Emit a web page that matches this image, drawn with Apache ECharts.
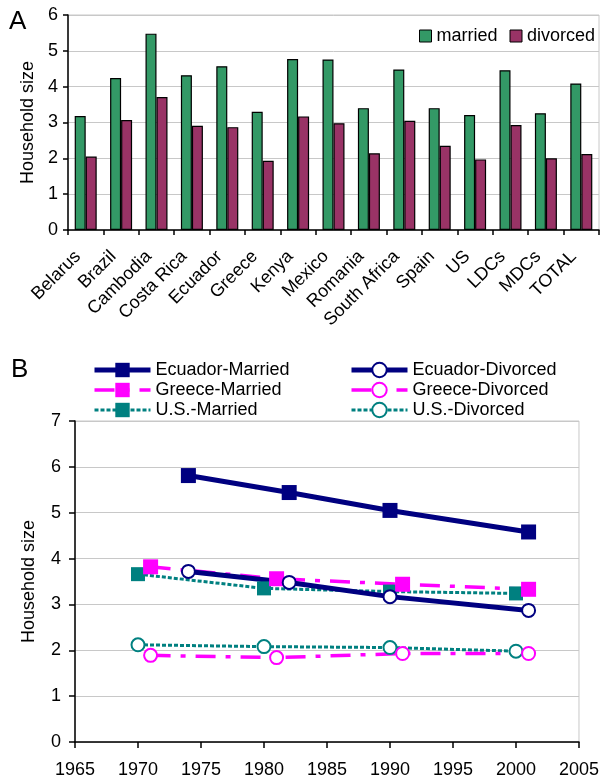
<!DOCTYPE html>
<html>
<head>
<meta charset="utf-8">
<script src="https://cdn.jsdelivr.net/npm/echarts@6/dist/echarts.min.js"></script>
<style>
  html, body { margin: 0; padding: 0; background: #fff; }
  #chart { width: 602px; height: 779px; }
</style>
</head>
<body>
<div id="chart"></div>
<script>
// panel A: household size by country
const countries = ['Belarus', 'Brazil', 'Cambodia', 'Costa Rica', 'Ecuador', 'Greece', 'Kenya',
  'Mexico', 'Romania', 'South Africa', 'Spain', 'US', 'LDCs', 'MDCs', 'TOTAL']
const married = [3.18, 4.24, 5.48, 4.32, 4.57, 3.30, 4.77, 4.76, 3.40, 4.48, 3.40, 3.21, 4.46, 3.26, 4.09]
const divorced = [2.05, 3.07, 3.71, 2.91, 2.87, 1.93, 3.17, 2.98, 2.14, 3.05, 2.35, 1.97, 2.93, 2.00, 2.12]

// panel B: trends over time
const ecuadorYears = [1974, 1982, 1990, 2001]
const ecuadorMarried = [5.81, 5.44, 5.05, 4.58]
const ecuadorDivorced = [3.72, 3.48, 3.17, 2.87]
const greeceYears = [1971, 1981, 1991, 2001]
const greeceMarried = [3.82, 3.56, 3.44, 3.33]
const greeceDivorced = [1.89, 1.84, 1.93, 1.93]
const usYears = [1970, 1980, 1990, 2000]
const usMarried = [3.66, 3.35, 3.28, 3.24]
const usDivorced = [2.12, 2.08, 2.06, 1.98]

const zip = (xs, ys) => xs.map((x, i) => [x, ys[i]])

const FONT = '"Liberation Sans", Arial, sans-serif'
const txt = { color: '#000', fontSize: 18, fontFamily: FONT }
const axisLine = { show: true, lineStyle: { color: '#000', width: 1.5 } }
const gridLine = { show: true, lineStyle: { color: '#c8c8c8', width: 1 } }

const NAVY = '#000080'
const MAGENTA = '#ff00ff'
const TEAL = '#008080'

// line styles per country
const ecuadorLine = { width: 5 }
const greeceLine = { width: 3.5, type: [20, 10, 5, 10] }
const usLine = { width: 3, type: [4, 2] }

const lineSeries = (name, years, vals, color, symbol, size, lineStyle) => ({
  name,
  type: 'line',
  xAxisIndex: 1,
  yAxisIndex: 1,
  data: zip(years, vals),
  symbol,
  symbolSize: size,
  showSymbol: true,
  color,
  itemStyle: symbol === 'emptyCircle'
    ? { color, borderColor: color, borderWidth: 2 }
    : { color },
  lineStyle: Object.assign({ color }, lineStyle)
})

const legendItem = (name, color, style) => ({
  name,
  lineStyle: Object.assign({ color }, style)
})

const chart = echarts.init(document.getElementById('chart'))
chart.setOption({
  animation: false,
  title: [
    { text: 'A', left: 9, top: 9, padding: 0, textStyle: { fontSize: 26, fontWeight: 'normal', color: '#000', fontFamily: FONT } },
    { text: 'B', left: 11, top: 357, padding: 0, textStyle: { fontSize: 26, fontWeight: 'normal', color: '#000', fontFamily: FONT } }
  ],
  legend: [
    {
      data: ['married', 'divorced'],
      left: 419, top: 27, width: 183, padding: 0,
      icon: 'rect',
      itemWidth: 12, itemHeight: 12, itemGap: 12,
      itemStyle: { borderColor: '#000', borderWidth: 1 },
      textStyle: Object.assign({}, txt, { lineHeight: 18 })
    },
    {
      data: [
        legendItem('Ecuador-Married', NAVY, ecuadorLine),
        legendItem('Greece-Married', MAGENTA, greeceLine),
        legendItem('U.S.-Married', TEAL, usLine)
      ],
      orient: 'vertical',
      left: 92, top: 361, padding: 0,
      itemWidth: 56, itemHeight: 18, itemGap: 2,
      textStyle: Object.assign({}, txt, { lineHeight: 18 })
    },
    {
      data: [
        legendItem('Ecuador-Divorced', NAVY, ecuadorLine),
        legendItem('Greece-Divorced', MAGENTA, greeceLine),
        legendItem('U.S.-Divorced', TEAL, usLine)
      ],
      orient: 'vertical',
      left: 349, top: 361, padding: 0,
      itemWidth: 56, itemHeight: 18, itemGap: 2,
      textStyle: Object.assign({}, txt, { lineHeight: 18 })
    }
  ],
  grid: [
    { left: 68, top: 15, width: 531, height: 215, show: true, borderColor: '#c8c8c8', borderWidth: 1 },
    { left: 75, top: 421, width: 505, height: 322.5, show: true, borderColor: '#c8c8c8', borderWidth: 1 }
  ],
  xAxis: [
    {
      type: 'category', gridIndex: 0, data: countries,
      axisLine,
      axisTick: { show: true, length: 5, lineStyle: { color: '#000', width: 1.5 } },
      axisLabel: Object.assign({}, txt, { rotate: 45, margin: 16, interval: 0, padding: [0, 11, 0, 0] })
    },
    {
      type: 'value', gridIndex: 1, min: 1965, max: 2005, interval: 5,
      axisLine,
      axisTick: { show: true, length: 6, lineStyle: { color: '#000', width: 1.5 } },
      axisLabel: Object.assign({}, txt, { margin: 19, formatter: v => String(v) }),
      splitLine: { show: false }
    }
  ],
  yAxis: [
    {
      type: 'value', gridIndex: 0, min: 0, max: 6, interval: 1,
      name: 'Household size', nameLocation: 'middle', nameGap: 30,
      nameTextStyle: txt,
      axisLine,
      axisTick: { show: true, length: 5, lineStyle: { color: '#000', width: 1.5 } },
      axisLabel: Object.assign({}, txt, { margin: 10 }),
      splitLine: gridLine
    },
    {
      type: 'value', gridIndex: 1, min: 0, max: 7, interval: 1,
      name: 'Household size', nameLocation: 'middle', nameGap: 37,
      nameTextStyle: txt,
      axisLine,
      axisTick: { show: true, length: 6, lineStyle: { color: '#000', width: 1.5 } },
      axisLabel: Object.assign({}, txt, { margin: 14 }),
      splitLine: gridLine
    }
  ],
  series: [
    {
      name: 'married', type: 'bar', data: married,
      barWidth: 11, barGap: '0%',
      itemStyle: { color: '#339966', borderColor: '#000', borderWidth: 1.2 }
    },
    {
      name: 'divorced', type: 'bar', data: divorced,
      barWidth: 11, barGap: '0%',
      itemStyle: { color: '#993366', borderColor: '#000', borderWidth: 1.2 }
    },
    lineSeries('U.S.-Married', usYears, usMarried, TEAL, 'rect', 14, usLine),
    lineSeries('U.S.-Divorced', usYears, usDivorced, TEAL, 'emptyCircle', 13, usLine),
    lineSeries('Greece-Married', greeceYears, greeceMarried, MAGENTA, 'rect', 15, greeceLine),
    lineSeries('Greece-Divorced', greeceYears, greeceDivorced, MAGENTA, 'emptyCircle', 13, greeceLine),
    lineSeries('Ecuador-Married', ecuadorYears, ecuadorMarried, NAVY, 'rect', 15, ecuadorLine),
    lineSeries('Ecuador-Divorced', ecuadorYears, ecuadorDivorced, NAVY, 'emptyCircle', 13, ecuadorLine)
  ]
})
</script>
</body>
</html>
